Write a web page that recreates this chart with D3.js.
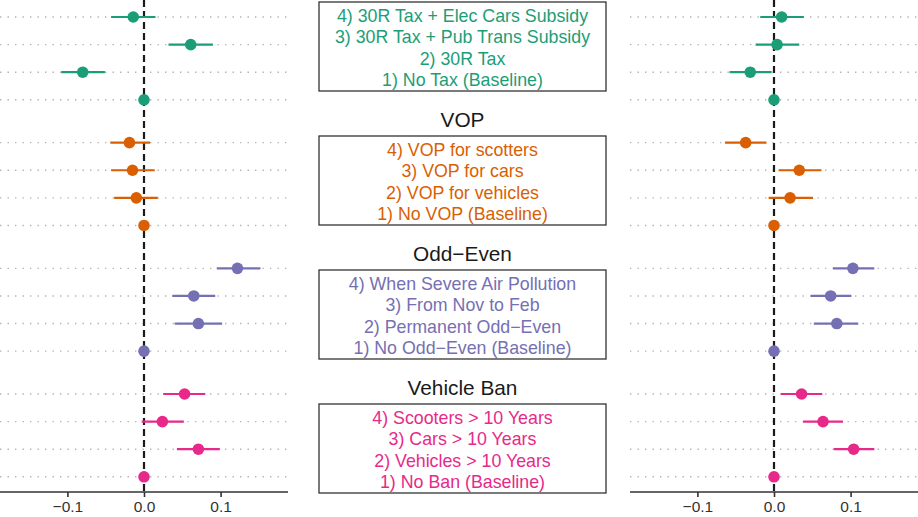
<!DOCTYPE html>
<html>
<head>
<meta charset="utf-8">
<script src="https://cdn.jsdelivr.net/npm/d3@7"></script>
<style>
  html, body { margin: 0; padding: 0; background: #fff; }
  svg text { font-family: "Liberation Sans", Arial, sans-serif; }
</style>
</head>
<body>
<svg id="chart" width="918" height="517"></svg>
<script>
// ---------- DATA ----------
const groups = ["Tax", "VOP", "Odd\u2212Even", "Vehicle Ban"];
const groupTitles = ["", "VOP", "Odd\u2212Even", "Vehicle Ban"];
const colors = ["#1b9e77", "#d95f02", "#7570b3", "#e7298a"];

const labelsTax = ["4) 30R Tax + Elec Cars Subsidy", "3) 30R Tax + Pub Trans Subsidy", "2) 30R Tax", "1) No Tax (Baseline)"];
const labelsVOP = ["4) VOP for scotters", "3) VOP for cars", "2) VOP for vehicles", "1) No VOP (Baseline)"];
const labelsOddEven = ["4) When Severe Air Pollution", "3) From Nov to Feb", "2) Permanent Odd\u2212Even", "1) No Odd\u2212Even (Baseline)"];
const labelsBan = ["4) Scooters > 10 Years", "3) Cars > 10 Years", "2) Vehicles > 10 Years", "1) No Ban (Baseline)"];

// Left panel: estimate, lower, upper (rows 4,3,2,1 per group)
const leftTax     = [[-0.014, -0.043, 0.015], [0.061, 0.032, 0.090], [-0.080, -0.108, -0.051], [0, 0, 0]];
const leftVOP     = [[-0.019, -0.044, 0.008], [-0.015, -0.043, 0.014], [-0.010, -0.039, 0.018], [0, 0, 0]];
const leftOddEven = [[0.122, 0.095, 0.152], [0.065, 0.037, 0.093], [0.071, 0.040, 0.102], [0, 0, 0]];
const leftBan     = [[0.053, 0.025, 0.080], [0.024, -0.003, 0.052], [0.071, 0.043, 0.099], [0, 0, 0]];

// Right panel
const rightTax     = [[0.010, -0.018, 0.039], [0.004, -0.024, 0.033], [-0.031, -0.058, -0.003], [0, 0, 0]];
const rightVOP     = [[-0.037, -0.064, -0.010], [0.033, 0.006, 0.062], [0.021, -0.007, 0.051], [0, 0, 0]];
const rightOddEven = [[0.103, 0.077, 0.131], [0.074, 0.048, 0.101], [0.082, 0.052, 0.110], [0, 0, 0]];
const rightBan     = [[0.036, 0.009, 0.063], [0.064, 0.038, 0.090], [0.104, 0.078, 0.131], [0, 0, 0]];

const xTicks = [-0.1, 0.0, 0.1];
const xDomain = [-0.188, 0.188];

// ---------- LAYOUT ----------
const svg = d3.select("#chart");
const W = 918, H = 517;
const axisY = 492;
const labels = [labelsTax, labelsVOP, labelsOddEven, labelsBan];
const leftData = [leftTax, leftVOP, leftOddEven, leftBan];
const rightData = [rightTax, rightVOP, rightOddEven, rightBan];

// y positions: group band + row point scale
const yGroup = d3.scalePoint().domain(d3.range(4)).range([17, 394]);
const yRow = d3.scalePoint().domain(d3.range(4)).range([0, 82.8]);
const yPos = (g, r) => yGroup(g) + yRow(r);

function drawPanel(x0, x1, data) {
  const x = d3.scaleLinear().domain(xDomain).range([x0, x1]);
  const g = svg.append("g");

  // dotted grid lines
  for (let gi = 0; gi < 4; gi++) {
    for (let r = 0; r < 4; r++) {
      g.append("line")
        .attr("x1", x0).attr("x2", x1)
        .attr("y1", yPos(gi, r)).attr("y2", yPos(gi, r))
        .attr("stroke", "#b3b3b3").attr("stroke-width", 1.4)
        .attr("stroke-dasharray", "1.4,6.1");
    }
  }
  // zero dashed line
  g.append("line")
    .attr("x1", x(0)).attr("x2", x(0))
    .attr("y1", 0).attr("y2", axisY)
    .attr("stroke", "#1a1a1a").attr("stroke-width", 2.2)
    .attr("stroke-dasharray", "7,4");

  // points & error bars
  for (let gi = 0; gi < 4; gi++) {
    data[gi].forEach((d, r) => {
      const y = yPos(gi, r);
      if (d[1] !== d[2]) {
        g.append("line")
          .attr("x1", x(d[1])).attr("x2", x(d[2]))
          .attr("y1", y).attr("y2", y)
          .attr("stroke", colors[gi]).attr("stroke-width", 2.2);
      }
      g.append("circle")
        .attr("cx", x(d[0])).attr("cy", y).attr("r", 5.8)
        .attr("fill", colors[gi]);
    });
  }

  // axis
  const axis = d3.axisBottom(x).tickValues(xTicks)
    .tickFormat(d3.format(".1f")).tickSize(5).tickPadding(4);
  const ax = g.append("g").attr("transform", `translate(0,${axisY})`).call(axis);
  ax.select(".domain").attr("stroke", "#333").attr("stroke-width", 1.6)
    .attr("d", `M${x0},0H${x1}`);
  ax.selectAll(".tick line").attr("stroke", "#333").attr("stroke-width", 1.6);
  ax.selectAll(".tick text").attr("fill", "#333")
    .style("font-size", "15.5px")
    .style("font-family", '"Liberation Sans", Arial, sans-serif')
    .text(d => d3.format(".1f")(d).replace("-", "\u2212"));
}

drawPanel(0, 288, leftData);
drawPanel(630, 918, rightData);

// ---------- CENTER LABEL BOXES ----------
const boxX0 = 319, boxX1 = 606, cx = (boxX0 + boxX1) / 2;
const boxTop = d3.scaleLinear().domain([0, 3]).range([2, 404]);
const boxH = 89;
for (let gi = 0; gi < 4; gi++) {
  const top = boxTop(gi);
  svg.append("rect")
    .attr("x", boxX0).attr("y", top)
    .attr("width", boxX1 - boxX0).attr("height", boxH)
    .attr("fill", "#fff").attr("stroke", "#333").attr("stroke-width", 1.3);
  labels[gi].forEach((t, i) => {
    svg.append("text")
      .attr("x", cx).attr("y", top + 13.5 + i * 21.5)
      .attr("text-anchor", "middle").attr("dominant-baseline", "central")
      .attr("fill", colors[gi]).style("font-size", "17.8px")
      .text(t);
  });
  if (groupTitles[gi]) {
    svg.append("text")
      .attr("x", cx).attr("y", top - 17)
      .attr("text-anchor", "middle").attr("dominant-baseline", "central")
      .attr("fill", "#1a1a1a").style("font-size", "20.8px")
      .text(groupTitles[gi]);
  }
}
</script>
</body>
</html>
